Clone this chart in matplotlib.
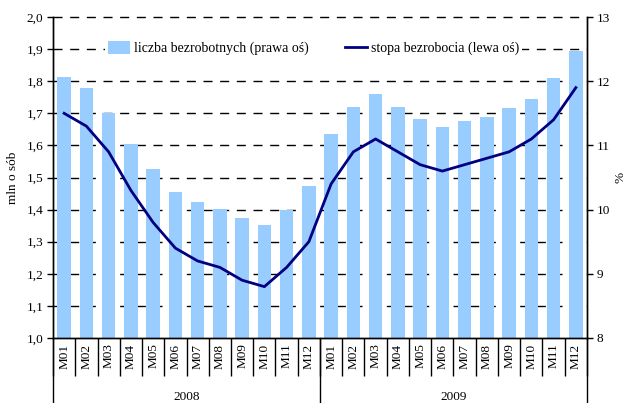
import matplotlib.pyplot as plt
import matplotlib.transforms as mtransforms
import numpy as np

plt.rcParams['font.family'] = ['Liberation Serif', 'DejaVu Serif']

months = ['M01', 'M02', 'M03', 'M04', 'M05', 'M06',
          'M07', 'M08', 'M09', 'M10', 'M11', 'M12']
years = ['2008', '2009']

# liczba bezrobotnych, mln osob
bezrobotni = [1.812, 1.778, 1.700, 1.603, 1.526, 1.454, 1.423, 1.401, 1.373, 1.351, 1.399, 1.473,
              1.636, 1.720, 1.760, 1.720, 1.682, 1.657, 1.676, 1.688, 1.717, 1.745, 1.810, 1.894]
# stopa bezrobocia, %
stopa = [11.5, 11.3, 10.9, 10.3, 9.8, 9.4, 9.2, 9.1, 8.9, 8.8, 9.1, 9.5,
         10.4, 10.9, 11.1, 10.9, 10.7, 10.6, 10.7, 10.8, 10.9, 11.1, 11.4, 11.9]

left_ticks = np.round(np.arange(1.0, 2.01, 0.1), 1)
right_ticks = [8, 9, 10, 11, 12, 13]

n = len(bezrobotni)
x = np.arange(n)

fig = plt.figure(figsize=(6.28, 4.03), dpi=100)
ax = fig.add_axes([0.0844, 0.1613, 0.8503, 0.7965])
ax2 = ax.twinx()

for v in left_ticks[1:]:
    ax.axhline(v, color='black', lw=1.0, dashes=(6.5, 5.5), zorder=0.5, clip_on=False)

ax.bar(x, bezrobotni, width=0.6, color='#99ccff', zorder=2,
       label='liczba bezrobotnych (prawa oś)')
ax.set_xlim(-0.5, n - 0.5)
ax.set_ylim(1.0, 2.0)
ax.set_yticks(left_ticks)
ax.set_yticklabels([('%.1f' % v).replace('.', ',') for v in left_ticks])
ax.set_ylabel('mln o sób', fontsize=9.5, labelpad=5)

ax2.plot(x, stopa, color='#000080', lw=2.0, label='stopa bezrobocia (lewa oś)',
         solid_joinstyle='round')
ax2.set_ylim(8, 13)
ax2.set_yticks(right_ticks)
ax2.set_ylabel('%', fontsize=9.5, labelpad=3)

for a in (ax, ax2):
    a.spines['top'].set_visible(False)
    for s in ('left', 'right', 'bottom'):
        a.spines[s].set_linewidth(1.0)
    a.tick_params(axis='y', labelsize=9.5, length=4, width=1.0, direction='out', pad=3)

ax.set_xticks(x)
ax.set_xticklabels(months * 2, rotation=90, fontsize=9.5)
ax.tick_params(axis='x', which='major', length=0, pad=4)
ax.set_xticks(np.arange(-0.5, n, 1.0), minor=True)
ax.tick_params(axis='x', which='minor', length=27, width=1.0, direction='out')

trans = mtransforms.blended_transform_factory(ax.transData, ax.transAxes)
for xb in [-0.5, 11.5, 23.5]:
    ax.plot([xb, xb], [0, -0.21], transform=trans, color='black', lw=1.0, clip_on=False)
for i, yr in enumerate(years):
    ax.text(5.5 + 12 * i, -0.185, yr, transform=trans, ha='center', va='center', fontsize=9.5)

h1, l1 = ax.get_legend_handles_labels()
h2, l2 = ax2.get_legend_handles_labels()
leg = ax2.legend(h1 + h2, l1 + l2, ncol=2, loc='center', bbox_to_anchor=(0.488, 0.903),
                 fontsize=10, frameon=True, facecolor='white', edgecolor='none',
                 framealpha=1, fancybox=False, handlelength=1.6, handleheight=1.0,
                 handletextpad=0.3, columnspacing=2.6, borderpad=0.2)

fig.savefig('out.png', dpi=100)
